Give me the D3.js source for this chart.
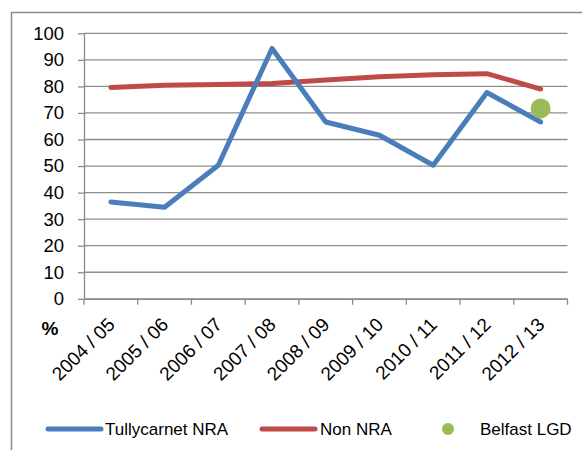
<!DOCTYPE html>
<html>
<head>
<meta charset="utf-8">
<script src="https://cdn.jsdelivr.net/npm/d3@7"></script>
<style>
  html, body { margin: 0; padding: 0; background: #fff; }
  svg { display: block; font-family: "Liberation Sans", Arial, sans-serif; }
</style>
</head>
<body>
<svg id="chart" width="582" height="450"></svg>
<script>
const categories = ["2004 / 05", "2005 / 06", "2006 / 07", "2007 / 08", "2008 / 09", "2009 / 10", "2010 / 11", "2011 / 12", "2012 / 13"];
const tullycarnet = [36.5, 34.5, 50.3, 94.3, 66.6, 61.6, 50.3, 77.7, 66.6];
const nonNRA = [79.6, 80.4, 80.7, 81.1, 82.4, 83.6, 84.4, 84.8, 79.0];
const belfastCategory = ["2012 / 13"];
const belfastValue = [71.7];
const yTicks = [0, 10, 20, 30, 40, 50, 60, 70, 80, 90, 100];
const seriesNames = ["Tullycarnet NRA", "Non NRA", "Belfast LGD"];

const colors = { blue: "#4A7EBB", red: "#BE4B48", green: "#9BBB59", grid: "#8C8C8C" };

const svg = d3.select("#chart");

// outer frame (only left and top edges visible in the crop)
svg.append("rect")
  .attr("x", 11.5).attr("y", 12.5)
  .attr("width", 700).attr("height", 600)
  .attr("fill", "none").attr("stroke", "#8C8C8C").attr("stroke-width", 1.5);

const x = d3.scaleBand().domain(categories).range([84, 567.5]).padding(0);
const y = d3.scaleLinear().domain([0, 100]).range([298.8, 33.3]);

// gridlines
svg.append("g").selectAll("line").data(yTicks).join("line")
  .attr("x1", 84).attr("x2", 567.5)
  .attr("y1", d => y(d)).attr("y2", d => y(d))
  .attr("stroke", colors.grid).attr("stroke-width", 1.3);

// y axis
const yAxis = svg.append("g").attr("transform", "translate(84,0)")
  .call(d3.axisLeft(y).tickValues(yTicks).tickSize(6).tickPadding(14).tickSizeOuter(0));
yAxis.select(".domain").attr("stroke", colors.grid).attr("stroke-width", 1.3);
yAxis.selectAll(".tick line").attr("stroke", colors.grid).attr("stroke-width", 1.3);
yAxis.selectAll(".tick text").attr("font-size", 18.5).attr("fill", "#000")
  .attr("font-family", "Liberation Sans, Arial, sans-serif");

// x axis (labels from axis, ticks at band boundaries)
const xAxis = svg.append("g").attr("transform", `translate(0,${y(0)})`)
  .call(d3.axisBottom(x).tickSize(0).tickSizeOuter(0));
xAxis.select(".domain").attr("stroke", colors.grid).attr("stroke-width", 1.3);
xAxis.selectAll(".tick text")
  .attr("font-size", 19).attr("fill", "#000")
  .attr("font-family", "Liberation Sans, Arial, sans-serif")
  .attr("text-anchor", "end")
  .attr("dy", null).attr("y", 0)
  .attr("transform", "translate(5,27) rotate(-45)");
const boundaries = categories.map(c => x(c)).concat([x.range()[1]]);
svg.append("g").selectAll("line").data(boundaries).join("line")
  .attr("x1", d => d).attr("x2", d => d)
  .attr("y1", y(0)).attr("y2", y(0) + 6)
  .attr("stroke", colors.grid).attr("stroke-width", 1.3);

// % label
svg.append("text").attr("x", 50).attr("y", 335)
  .attr("text-anchor", "middle").attr("font-size", 19).attr("font-weight", "bold")
  .text("%");

const cx = c => x(c) + x.bandwidth() / 2;
const line = d3.line().x(d => cx(d.c)).y(d => y(d.v));

svg.append("path")
  .datum(categories.map((c, i) => ({ c, v: nonNRA[i] })))
  .attr("d", line).attr("fill", "none")
  .attr("stroke", colors.red).attr("stroke-width", 5)
  .attr("stroke-linejoin", "round").attr("stroke-linecap", "round");

svg.append("path")
  .datum(categories.map((c, i) => ({ c, v: tullycarnet[i] })))
  .attr("d", line).attr("fill", "none")
  .attr("stroke", colors.blue).attr("stroke-width", 5)
  .attr("stroke-linejoin", "round").attr("stroke-linecap", "round");

svg.append("g").selectAll("circle").data(belfastCategory).join("circle")
  .attr("cx", d => cx(d)).attr("cy", (d, i) => y(belfastValue[i]))
  .attr("r", 10).attr("fill", colors.green);

// legend
const ly = 429;
const leg = svg.append("g").attr("font-size", 17).attr("fill", "#000");
leg.append("line").attr("x1", 48).attr("x2", 101).attr("y1", ly).attr("y2", ly)
  .attr("stroke", colors.blue).attr("stroke-width", 5).attr("stroke-linecap", "round");
leg.append("text").attr("x", 105).attr("y", ly + 6).text(seriesNames[0]);
leg.append("line").attr("x1", 262).attr("x2", 315).attr("y1", ly).attr("y2", ly)
  .attr("stroke", colors.red).attr("stroke-width", 5).attr("stroke-linecap", "round");
leg.append("text").attr("x", 320).attr("y", ly + 6).text(seriesNames[1]);
leg.append("circle").attr("cx", 448).attr("cy", ly).attr("r", 6).attr("fill", colors.green);
leg.append("text").attr("x", 480).attr("y", ly + 6).text(seriesNames[2]);
</script>
</body>
</html>
